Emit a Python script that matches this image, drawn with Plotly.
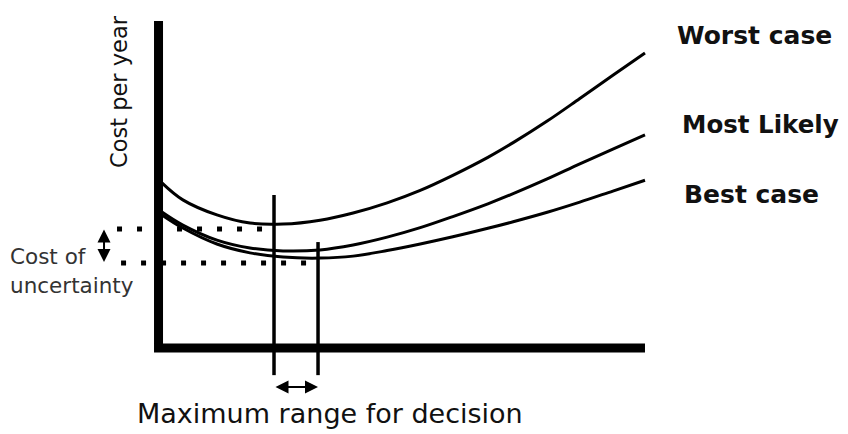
import plotly.graph_objects as go

# ---- data (conceptual units: decision parameter vs cost per year) ----
x_pts = [0.07, 0.5, 1.2, 1.88, 2.56, 3.32, 4.0, 4.7, 5.38, 6.05, 6.77, 7.29, 7.99, 8.66, 9.34, 10.0]
worst_case = [5.05, 4.53, 4.07, 3.82, 3.79, 3.91, 4.13, 4.44, 4.82, 5.28, 5.83, 6.28, 6.94, 7.63, 8.34, 9.02]
most_likely = [4.16, 3.76, 3.30, 3.06, 2.97, 3.00, 3.15, 3.39, 3.68, 4.02, 4.41, 4.72, 5.17, 5.63, 6.08, 6.52]
best_case = [4.07, 3.67, 3.18, 2.91, 2.78, 2.75, 2.81, 2.98, 3.18, 3.40, 3.66, 3.86, 4.15, 4.46, 4.80, 5.13]
series_names = ["Worst case", "Most Likely", "Best case"]

axis_x = [0, 0, 10]
axis_y = [10, 0, 0]
decision_range = [2.374, 3.279]          # x of the two vertical markers
decision_tops = [4.68, 3.24]             # top of each vertical marker
marker_bottom = -0.83
uncertainty_levels = [3.64, 2.60]        # dotted cost levels
dotted_start = [-0.853, -0.77]

BLACK = "#000000"
TXT = "#111111"
FONT = "DejaVu Sans"

fig = go.Figure()

# axes (thick L)
fig.add_trace(go.Scatter(x=axis_x, y=axis_y, mode="lines",
                         line=dict(color=BLACK, width=9), hoverinfo="skip"))

# curves
for name, ys in zip(series_names, [worst_case, most_likely, best_case]):
    fig.add_trace(go.Scatter(x=x_pts, y=ys, mode="lines", name=name,
                             line=dict(color=BLACK, width=3, shape="spline", smoothing=1.0)))

# dotted uncertainty levels
for lvl, xs, xe in zip(uncertainty_levels, dotted_start, decision_range):
    fig.add_trace(go.Scatter(x=[xs, xe], y=[lvl, lvl], mode="lines",
                             line=dict(color=BLACK, width=5, dash="5px,15px"), hoverinfo="skip"))

# vertical decision markers
for xv, top in zip(decision_range, decision_tops):
    fig.add_trace(go.Scatter(x=[xv, xv], y=[top, marker_bottom], mode="lines",
                             line=dict(color=BLACK, width=3.5), hoverinfo="skip"))

# arrows
fig.add_annotation(x=decision_range[1], y=-1.19, ax=decision_range[0], ay=-1.19,
                   xref="x", yref="y", axref="x", ayref="y", text="", showarrow=True,
                   arrowside="end+start", arrowhead=2, arrowsize=1.3, arrowwidth=2,
                   arrowcolor=BLACK, standoff=0, startstandoff=0)
fig.add_annotation(x=-1.12, y=uncertainty_levels[1] + 0.03, ax=-1.12, ay=uncertainty_levels[0] + 0.03,
                   xref="x", yref="y", axref="x", ayref="y", text="", showarrow=True,
                   arrowside="end+start", arrowhead=2, arrowsize=1.3, arrowwidth=2,
                   arrowcolor=BLACK, standoff=0, startstandoff=0)

# series labels
label_pos = [(10.617, 9.557), (10.72, 6.85), (10.762, 4.709)]
label_size = [25, 24.5, 25]
for name, (lx, ly), sz in zip(series_names, label_pos, label_size):
    fig.add_annotation(x=lx, y=ly, xref="x", yref="y", text=f"<b>{name}</b>", showarrow=False,
                       xanchor="left", yanchor="middle",
                       font=dict(family=FONT, size=sz, color=TXT))

# other texts
fig.add_annotation(x=-0.812, y=7.83, xref="x", yref="y", text="Cost per year", showarrow=False,
                   textangle=-90, xanchor="center", yanchor="middle",
                   font=dict(family=FONT, size=22.5, color=TXT))
fig.add_annotation(x=3.535, y=-2.012, xref="x", yref="y", text="Maximum range for decision",
                   showarrow=False, xanchor="center", yanchor="middle",
                   font=dict(family=FONT, size=27, color=TXT))
fig.add_annotation(x=-3.09, y=2.798, xref="x", yref="y", text="Cost of", showarrow=False,
                   xanchor="left", yanchor="middle", font=dict(family=FONT, size=21.5, color="#333333"))
fig.add_annotation(x=-3.09, y=1.908, xref="x", yref="y", text="uncertainty", showarrow=False,
                   xanchor="left", yanchor="middle", font=dict(family=FONT, size=21.5, color="#333333"))

# the page body has an 8px margin, so the figure is 840x426 and its ranges start 8px in
fig.update_layout(
    width=840, height=426,
    margin=dict(l=0, r=0, t=0, b=0),
    paper_bgcolor="white", plot_bgcolor="white",
    showlegend=False,
    xaxis=dict(range=[-3.094, 14.173], visible=False, fixedrange=True),
    yaxis=dict(range=[-2.63, 10.398], visible=False, fixedrange=True),
)

fig.write_html("out.html")
